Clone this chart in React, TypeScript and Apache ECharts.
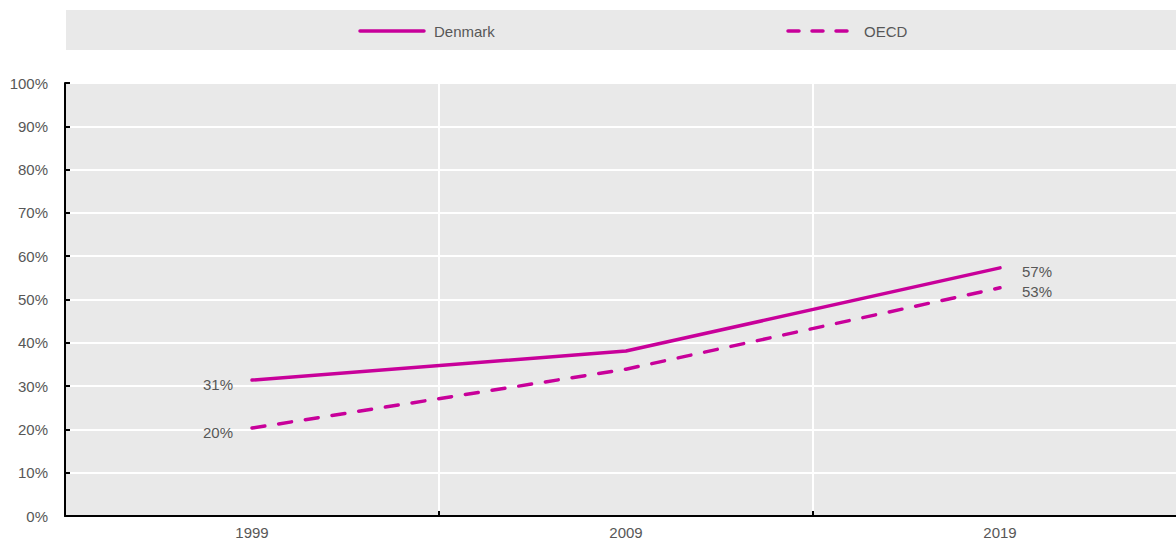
import React, { useEffect, useRef } from "react";
import * as echarts from "echarts";

const categories = ["1999", "2009", "2019"];
const denmark = [31.4, 38.1, 57.3];
const oecd = [20.3, 33.9, 52.7];
const seriesNames = ["Denmark", "OECD"];

const MAGENTA = "#c8009a";
const TEXT = "#575757";
const FONT = "'Liberation Sans', Arial, sans-serif";
const FS = 15;

function endLabels(values: number[]) {
  return values.map((v, i) => {
    const last = values.length - 1;
    if (i === 0) {
      return { value: v, label: { show: true, position: "left", distance: 18 } };
    }
    if (i === last) {
      return { value: v, label: { show: true, position: "right", distance: 21 } };
    }
    return { value: v, label: { show: false } };
  });
}

export default function App() {
  const ref = useRef<HTMLDivElement>(null);
  useEffect(() => {
    if (!ref.current) return;
    const chart = echarts.init(ref.current, null, { renderer: "svg" });
    const labelStyle = {
      color: TEXT,
      fontSize: FS,
      fontFamily: FONT,
      offset: [0, 4],
      formatter: (p: any) => Math.round(Number(p.value)) + "%",
    };
    chart.setOption({
      animation: false,
      backgroundColor: "#ffffff",
      grid: {
        left: 65,
        right: -11,
        top: 83,
        bottom: 24,
        outerBoundsMode: "none",
        containLabel: false,
        show: true,
        backgroundColor: "#e9e9e9",
        borderWidth: 0,
      },
      xAxis: {
        type: "category",
        data: categories,
        boundaryGap: true,
        axisLine: { show: true, lineStyle: { color: "#000", width: 2 } },
        axisTick: { show: true, inside: true, length: 5, lineStyle: { color: "#000", width: 2 } },
        axisLabel: { color: TEXT, fontSize: FS, fontFamily: FONT, margin: 9 },
        splitLine: { show: true, lineStyle: { color: "#ffffff", width: 2 } },
      },
      yAxis: {
        type: "value",
        min: 0,
        max: 100,
        interval: 10,
        axisLine: { show: true, lineStyle: { color: "#000", width: 2 } },
        axisTick: { show: true, inside: true, length: 5, lineStyle: { color: "#000", width: 2 } },
        axisLabel: {
          color: TEXT,
          fontSize: FS,
          fontFamily: FONT,
          margin: 17,
          formatter: "{value}%",
        },
        splitLine: { show: true, lineStyle: { color: "#ffffff", width: 2 } },
      },
      series: [
        {
          name: seriesNames[0],
          type: "line",
          data: endLabels(denmark),
          symbol: "circle",
          symbolSize: 2,
          showSymbol: true,
          clip: false,
          itemStyle: { color: MAGENTA },
          lineStyle: { color: MAGENTA, width: 3.5, cap: "round" },
          label: labelStyle,
          z: 3,
        },
        {
          name: seriesNames[1],
          type: "line",
          data: endLabels(oecd),
          symbol: "circle",
          symbolSize: 2,
          showSymbol: true,
          clip: false,
          itemStyle: { color: MAGENTA },
          lineStyle: { color: MAGENTA, width: 3.5, type: [13, 14], cap: "round" },
          label: labelStyle,
          z: 3,
        },
      ],
      graphic: [
        {
          type: "rect",
          shape: { x: 66, y: 10, width: 1110, height: 40 },
          style: { fill: "#e9e9e9" },
          silent: true,
        },
        {
          type: "line",
          shape: { x1: 360, y1: 31, x2: 424, y2: 31 },
          style: { stroke: MAGENTA, lineWidth: 3.5, lineCap: "round" },
        },
        {
          type: "text",
          x: 434,
          y: 31,
          style: {
            text: seriesNames[0],
            fill: TEXT,
            fontSize: FS,
            fontFamily: FONT,
            verticalAlign: "middle",
          },
        },
        {
          type: "line",
          shape: { x1: 788, y1: 31, x2: 854, y2: 31 },
          style: { stroke: MAGENTA, lineWidth: 3.5, lineCap: "round", lineDash: [11, 13] },
        },
        {
          type: "text",
          x: 864,
          y: 31,
          style: {
            text: seriesNames[1],
            fill: TEXT,
            fontSize: FS,
            fontFamily: FONT,
            verticalAlign: "middle",
          },
        },
      ],
    });
    return () => chart.dispose();
  }, []);
  return (
    <div
      ref={ref}
      style={{ position: "fixed", left: 0, top: 0, width: 1176, height: 540 }}
    />
  );
}
